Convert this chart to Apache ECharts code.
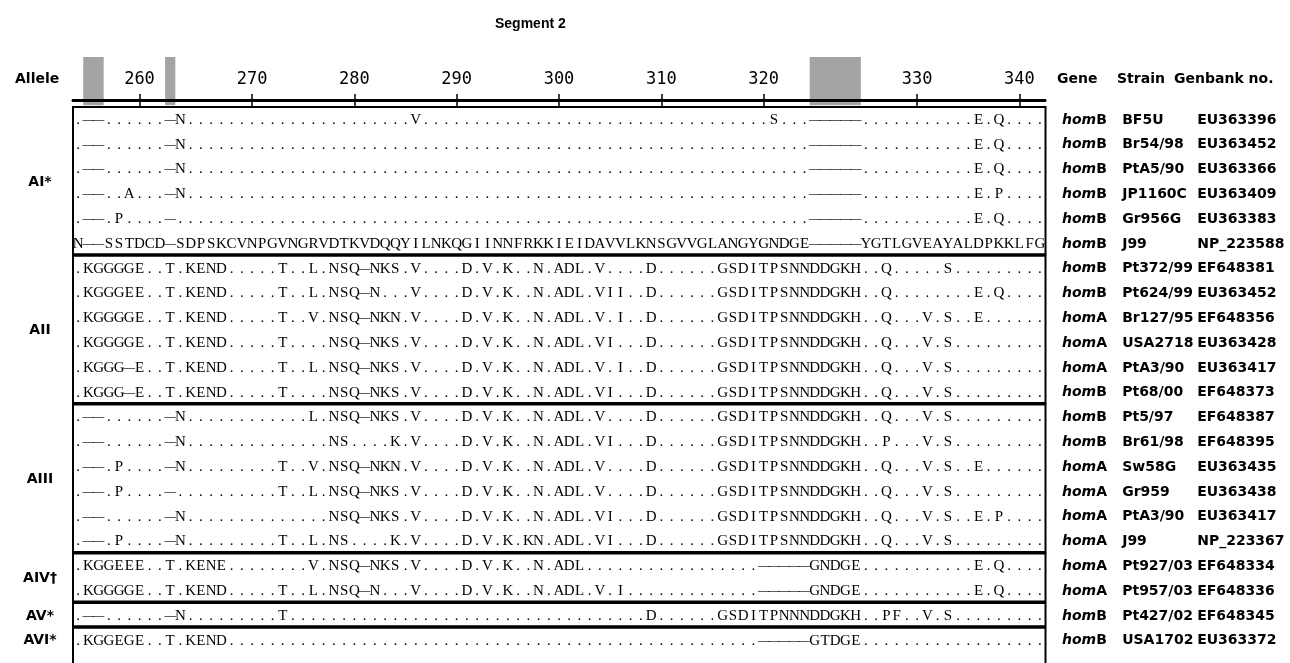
<!DOCTYPE html>
<html><head><meta charset="utf-8">
<script src="https://cdn.jsdelivr.net/npm/echarts@6/dist/echarts.min.js"></script>
<style>html,body{margin:0;padding:0;background:#fff}#c{width:1290px;height:663px}</style>
</head><body><div id="c"></div>
<script>
// ---------------- data ----------------
const titleText = 'Segment 2';
const firstResidue = 256;                     // residue number of alignment column 1
const gapColumns = [2, 3, 10, 73, 74, 75, 76, 77]; // shaded (unnumbered) columns
const tickResidues = [260, 270, 280, 290, 300, 310, 320, 330, 340];
const alleleGroups = ['AI*', 'AII', 'AIII', 'AIV\u2020', 'AV*', 'AVI*'];
const groupFirstRow = [0, 6, 12, 18, 20, 21];
const groupLastRow  = [5, 11, 17, 19, 20, 21];
const genes = ['B','B','B','B','B','B','B','B','A','A','A','B','B','B','A','A','A','A','A','A','B','B'];
const strains = ['BF5U','Br54/98','PtA5/90','JP1160C','Gr956G','J99','Pt372/99','Pt624/99','Br127/95','USA2718','PtA3/90','Pt68/00','Pt5/97','Br61/98','Sw58G','Gr959','PtA3/90','J99','Pt927/03','Pt957/03','Pt427/02','USA1702'];
const accessions = ['EU363396','EU363452','EU363366','EU363409','EU363383','NP_223588','EF648381','EU363452','EF648356','EU363428','EU363417','EF648373','EF648387','EF648395','EU363435','EU363438','EU363417','NP_223367','EF648334','EF648336','EF648345','EU363372'];
const sequences = [
 '.--......-N' + '..........'+'..........'+'..' + 'V' + '..........'+'..........'+'..........'+'....' + 'S...-----' + '..........'+'.' + 'E.Q....',
 '.--......-N' + '..........'+'..........'+'..........'+'..........'+'..........'+'..........'+'.' + '-----' + '..........'+'.' + 'E.Q....',
 '.--......-N' + '..........'+'..........'+'..........'+'..........'+'..........'+'..........'+'.' + '-----' + '..........'+'.' + 'E.Q....',
 '.--..A...-N' + '..........'+'..........'+'..........'+'..........'+'..........'+'..........'+'.' + '-----' + '..........'+'.' + 'E.P....',
 '.--.P....-.' + '..........'+'..........'+'..........'+'..........'+'..........'+'..........'+'.' + '-----' + '..........'+'.' + 'E.Q....',
 'N--SSTDCD-SDPSKCVNPGVNGRVDTKVDQQYILNKQGIINNFRKKIEIDAVVLKNSGVVGLANGYGNDGE-----YGTLGVEAYALDPKKLFG',
 '.KGGGGE..T.KEND' + '.....' + 'T..L.NSQ-NKS.V' + '....D.V.K..N.ADL.V....D' + '......' + 'GSDITPSNNDDGKH' + '..Q.....S' + '.........',
 '.KGGGEE..T.KEND' + '.....' + 'T..L.NSQ-N...V' + '....D.V.K..N.ADL.VII..D' + '......' + 'GSDITPSNNDDGKH' + '..Q........E.Q....',
 '.KGGGGE..T.KEND' + '.....' + 'T..V.NSQ-NKN.V' + '....D.V.K..N.ADL.V.I..D' + '......' + 'GSDITPSNNDDGKH' + '..Q...V.S..E......',
 '.KGGGGE..T.KEND' + '.....' + 'T....NSQ-NKS.V' + '....D.V.K..N.ADL.VI...D' + '......' + 'GSDITPSNNDDGKH' + '..Q...V.S.........',
 '.KGGG-E..T.KEND' + '.....' + 'T..L.NSQ-NKS.V' + '....D.V.K..N.ADL.V.I..D' + '......' + 'GSDITPSNNDDGKH' + '..Q...V.S.........',
 '.KGGG-E..T.KEND' + '.....' + 'T....NSQ-NKS.V' + '....D.V.K..N.ADL.VI...D' + '......' + 'GSDITPSNNDDGKH' + '..Q...V.S.........',
 '.--......-N' + '..........'+'..' + 'L.NSQ-NKS.V' + '....D.V.K..N.ADL.V....D' + '......' + 'GSDITPSNNDDGKH' + '..Q...V.S.........',
 '.--......-N' + '..........'+'....' + 'NS....K.V' + '....D.V.K..N.ADL.VI...D' + '......' + 'GSDITPSNNDDGKH' + '..P...V.S.........',
 '.--.P....-N' + '.........' + 'T..V.NSQ-NKN.V' + '....D.V.K..N.ADL.V....D' + '......' + 'GSDITPSNNDDGKH' + '..Q...V.S..E......',
 '.--.P....-.' + '.........' + 'T..L.NSQ-NKS.V' + '....D.V.K..N.ADL.V....D' + '......' + 'GSDITPSNNDDGKH' + '..Q...V.S.........',
 '.--......-N' + '..........'+'....' + 'NSQ-NKS.V' + '....D.V.K..N.ADL.VI...D' + '......' + 'GSDITPSNNDDGKH' + '..Q...V.S..E.P....',
 '.--.P....-N' + '.........' + 'T..L.NS....K.V' + '....D.V.K.KN.ADL.VI...D' + '......' + 'GSDITPSNNDDGKH' + '..Q...V.S.........',
 '.KGGEEE..T.KENE' + '........' + 'V.NSQ-NKS.V' + '....D.V.K..N.ADL' + '..........'+'.......' + '-----GNDGE' + '..........'+'.' + 'E.Q....',
 '.KGGGGE..T.KEND' + '.....' + 'T..L.NSQ-N...V' + '....D.V.K..N.ADL' + '.V.I' + '..........'+'...' + '-----GNDGE' + '..........'+'.' + 'E.Q....',
 '.--......-N' + '.........' + 'T' + '..........'+'..........'+'..........'+'.....' + 'D' + '......' + 'GSDITPNNNDDGKH' + '..PF..V.S' + '.........',
 '.KGGEGE..T.KEND' + '..........'+'..........'+'..........'+'..........'+'..........'+'..' + '-----GTDGE' + '..........'+'........'
];

// ---------------- derived ----------------
const nCols = 95;
const residueOfCol = {};
let res = firstResidue;
for (let c = 1; c <= nCols; c++) { if (!gapColumns.includes(c)) { residueOfCol[c] = res; res++; } }
const tickCols = tickResidues.map(t => Number(Object.keys(residueOfCol).find(c => residueOfCol[c] === t)));
const gapRuns = [];
gapColumns.forEach(c => { const last = gapRuns[gapRuns.length - 1]; if (last && last[1] === c - 1) last[1] = c; else gapRuns.push([c, c]); });

const cellData = [], cellChars = [];
sequences.forEach((s, r) => { for (let c = 1; c <= s.length; c++) { cellData.push([c, r]); cellChars.push(s[c - 1]); } });
const bad = sequences.map((s, i) => s.length !== nCols ? i + ':' + s.length : null).filter(Boolean);

const groupCenters = groupFirstRow.map((f, i) => (f + groupLastRow[i]) / 2);
const boxData = groupFirstRow.map((f, i) => [f, groupLastRow[i], i === groupFirstRow.length - 1 ? 1 : 0]);
const rowValues = strains.map((_, i) => i);

// ---------------- chart ----------------
const GL = 73, GR = 1290 - 1045;
const chart = echarts.init(document.getElementById('c'));
const sans = 'DejaVu Sans';
chart.setOption({
  animation: false,
  backgroundColor: '#fff',
  title: { text: titleText, left: 490, top: 12, textStyle: { fontFamily: 'Liberation Sans', fontWeight: 'bold', fontSize: 14, color: '#000' } },
  grid: [
    { left: GL, right: GR, top: 57, height: 43 },
    { left: GL, right: GR, top: 105, bottom: 0 }
  ],
  xAxis: [
    { gridIndex: 0, type: 'value', position: 'top', min: 0.5, max: 95.5,
      axisLine: { lineStyle: { color: '#000', width: 2 } },
      axisTick: { inside: true, length: 6, customValues: tickCols, lineStyle: { color: '#000', width: 1.5 } },
      axisLabel: { inside: true, margin: 14, customValues: tickCols, formatter: v => String(residueOfCol[Math.round(v)]),
                   fontFamily: 'DejaVu Sans Mono', fontSize: 17, color: '#000' },
      splitLine: { show: false } },
    { gridIndex: 0, type: 'value', position: 'bottom', min: 0.5, max: 95.5,
      axisLine: { lineStyle: { color: '#000', width: 3 } },
      axisTick: { inside: true, length: 6, customValues: tickCols, lineStyle: { color: '#000', width: 1.5 } },
      axisLabel: { show: false }, splitLine: { show: false } },
    { gridIndex: 1, type: 'value', min: 0.5, max: 95.5, show: false }
  ],
  yAxis: [
    { gridIndex: 0, type: 'value', min: 0, max: 1, show: false },
    { gridIndex: 1, type: 'value', min: -0.6, max: 21.9, inverse: true, position: 'left',
      axisLine: { show: false }, axisTick: { show: false }, splitLine: { show: false },
      axisLabel: { customValues: groupCenters, align: 'center', margin: 33,
        formatter: v => alleleGroups[groupCenters.findIndex(g => Math.abs(g - v) < 1e-6)] || '',
        fontFamily: sans, fontWeight: 'bold', fontSize: 14, color: '#000' } },
    { gridIndex: 1, type: 'value', min: -0.6, max: 21.9, inverse: true, position: 'right',
      axisLine: { show: false }, axisTick: { show: false }, splitLine: { show: false },
      axisLabel: { customValues: rowValues, align: 'left', margin: 17,
        formatter: v => { const i = Math.round(v); return '{hi|hom}{hb|' + genes[i] + '}{st|' + strains[i] + '}{gb|' + accessions[i] + '}'; },
        rich: {
          hi: { fontFamily: sans, fontWeight: 'bold', fontStyle: 'italic', fontSize: 14, color: '#000' },
          hb: { fontFamily: sans, fontWeight: 'bold', fontSize: 14, color: '#000', width: 26, align: 'left' },
          st: { fontFamily: sans, fontWeight: 'bold', fontSize: 14, color: '#000', width: 75, align: 'left' },
          gb: { fontFamily: sans, fontWeight: 'bold', fontSize: 14, color: '#000' }
        } } }
  ],
  graphic: [
    { type: 'text', left: 15, top: 72, style: { text: 'Allele', font: 'bold 14px "DejaVu Sans"', fill: '#000' } },
    { type: 'text', left: 1057, top: 72, style: { text: 'Gene', font: 'bold 14px "DejaVu Sans"', fill: '#000' } },
    { type: 'text', left: 1117, top: 72, style: { text: 'Strain', font: 'bold 14px "DejaVu Sans"', fill: '#000' } },
    { type: 'text', left: 1174, top: 72, style: { text: 'Genbank no.', font: 'bold 14px "DejaVu Sans"', fill: '#000' } }
  ].concat(bad.length ? [{ type: 'text', left: 10, top: 5, style: { text: 'BAD ' + bad.join(' '), fill: 'red', font: '14px sans-serif' } }] : []),
  series: [
    { type: 'custom', xAxisIndex: 0, yAxisIndex: 0, z: -1, data: gapRuns, silent: true,
      renderItem: (p, api) => {
        const a = api.coord([api.value(0) - 0.5, 1]);
        const b = api.coord([api.value(1) + 0.5, -0.12]);
        return { type: 'rect', shape: { x: a[0], y: a[1], width: b[0] - a[0], height: b[1] - a[1] }, style: { fill: '#a4a4a4' } };
      } },
    { type: 'custom', xAxisIndex: 2, yAxisIndex: 1, data: boxData, silent: true, clip: false,
      renderItem: (p, api) => {
        const a = api.coord([0.5, api.value(0) - 0.52]);
        const b = api.coord([95.55, api.value(1) + (api.value(2) ? 1.5 : 0.42)]);
        return { type: 'rect', shape: { x: a[0], y: a[1], width: b[0] - a[0], height: b[1] - a[1] }, style: { fill: 'none', stroke: '#000', lineWidth: 2 } };
      } },
    { type: 'custom', xAxisIndex: 2, yAxisIndex: 1, data: cellData, silent: true, clip: false,
      renderItem: (p, api) => {
        const ch = cellChars[p.dataIndex];
        const pt = api.coord([api.value(0), api.value(1)]);
        let text = ch, font = '15px "Liberation Serif"';
        if (ch === '-') { text = '\u2014'; font = '11.5px "Liberation Serif"'; }
        return { type: 'text', x: pt[0], y: pt[1], style: { text: text, font: font, fill: '#000', align: 'center', verticalAlign: 'middle' } };
      } }
  ]
});
</script></body></html>
